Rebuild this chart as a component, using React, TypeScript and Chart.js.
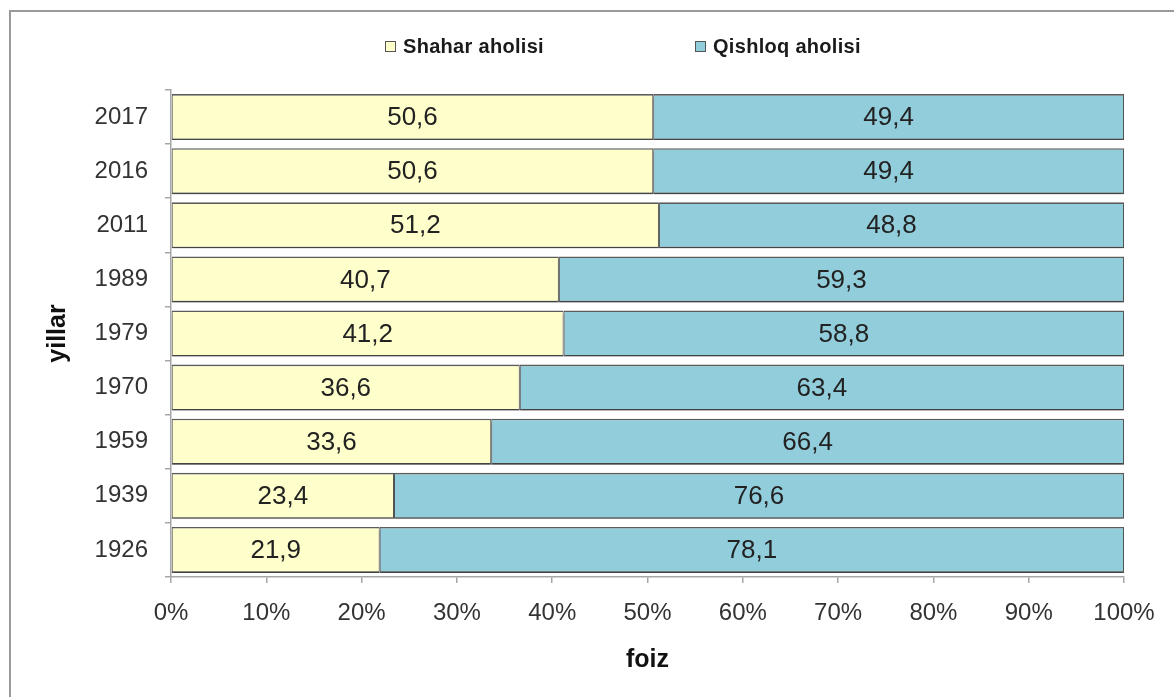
import React, { useEffect, useRef } from "react";
import { Chart, registerables } from "chart.js";

Chart.register(...registerables);

const years = ["2017", "2016", "2011", "1989", "1979", "1970", "1959", "1939", "1926"];
const urban = [50.6, 50.6, 51.2, 40.7, 41.2, 36.6, 33.6, 23.4, 21.9];
const rural = [49.4, 49.4, 48.8, 59.3, 58.8, 63.4, 66.4, 76.6, 78.1];
const seriesNames = ["Shahar aholisi", "Qishloq aholisi"];
const seriesColors = ["#FFFFCC", "#92CDDC"];
const xTickValues = [0, 10, 20, 30, 40, 50, 60, 70, 80, 90, 100];
const yTitle = "yillar";
const xTitle = "foiz";

const FONT = '"Liberation Sans", Arial, Helvetica, sans-serif';
const W = 1174;
const H = 697;
const legendLefts = [385, 695];

const barShadow = {
  id: "barShadow",
  beforeDatasetsDraw(chart: any) {
    const ctx = chart.ctx;
    ctx.save();
    ctx.shadowColor = "rgba(0,0,0,0.28)";
    ctx.shadowOffsetX = 0;
    ctx.shadowOffsetY = 2.5;
    ctx.shadowBlur = 2;
  },
  afterDatasetsDraw(chart: any) {
    chart.ctx.restore();
  },
};

const valueLabels = {
  id: "valueLabels",
  afterDatasetsDraw(chart: any) {
    const ctx = chart.ctx;
    ctx.save();
    ctx.shadowColor = "rgba(0,0,0,0)";
    ctx.font = `26px ${FONT}`;
    ctx.fillStyle = "#222222";
    ctx.textAlign = "center";
    ctx.textBaseline = "middle";
    chart.data.datasets.forEach((ds: any, i: number) => {
      const meta = chart.getDatasetMeta(i);
      meta.data.forEach((bar: any, j: number) => {
        const p = bar.getProps(["x", "y", "base"], true);
        const v = ds.data[j] as number;
        ctx.fillText(v.toFixed(1).replace(".", ","), (p.x + p.base) / 2, p.y + 1);
      });
    });
    ctx.restore();
  },
};

const barBorder = { top: 1.6, bottom: 1.6, left: 1, right: 1 };

export default function App() {
  const ref = useRef<HTMLCanvasElement | null>(null);

  useEffect(() => {
    if (!ref.current) return;
    const chart = new Chart(ref.current, {
      type: "bar",
      data: {
        labels: years,
        datasets: [
          {
            label: seriesNames[0],
            data: urban,
            backgroundColor: seriesColors[0],
            borderColor: "#5c5c5c",
            borderWidth: barBorder,
            borderSkipped: false,
          },
          {
            label: seriesNames[1],
            data: rural,
            backgroundColor: seriesColors[1],
            borderColor: "#5c5c5c",
            borderWidth: barBorder,
            borderSkipped: false,
          },
        ],
      },
      options: {
        indexAxis: "y",
        responsive: false,
        animation: false,
        devicePixelRatio: 1,
        layout: { padding: { left: 10, top: 90, right: 50, bottom: 0 } },
        datasets: {
          bar: { categoryPercentage: 1, barPercentage: 0.85 },
        },
        plugins: {
          legend: { display: false },
          tooltip: { enabled: false },
        },
        scales: {
          x: {
            stacked: true,
            min: 0,
            max: 100,
            afterBuildTicks: (s: any) => {
              s.ticks = xTickValues.map((v) => ({ value: v }));
            },
            afterFit: (s: any) => {
              s.height = 120;
            },
            ticks: {
              callback: (v: any) => `${v}%`,
              font: { family: FONT, size: 24 },
              color: "#333333",
              padding: 16,
              maxRotation: 0,
            },
            grid: {
              drawOnChartArea: false,
              drawTicks: true,
              tickLength: 6,
              color: "#a6a6a6",
              lineWidth: 1.5,
            },
            border: { color: "#a6a6a6", width: 1.5 },
            title: {
              display: true,
              text: xTitle,
              font: { family: FONT, size: 25, weight: "bold" },
              color: "#111111",
              padding: { top: 0, bottom: 22 },
            },
          },
          y: {
            stacked: true,
            afterFit: (s: any) => {
              s.width = 161;
            },
            ticks: {
              font: { family: FONT, size: 24 },
              color: "#333333",
              padding: 17,
            },
            grid: {
              drawOnChartArea: false,
              drawTicks: true,
              tickLength: 6,
              color: "#a6a6a6",
              lineWidth: 1.5,
            },
            border: { color: "#a6a6a6", width: 1.5 },
            title: {
              display: true,
              text: yTitle,
              font: { family: FONT, size: 25, weight: "bold" },
              color: "#111111",
              padding: { top: 33, bottom: 0 },
            },
          },
        },
      },
      plugins: [barShadow, valueLabels],
    });
    return () => chart.destroy();
  }, []);

  return (
    <div
      style={{
        position: "fixed",
        left: 0,
        top: 0,
        width: W,
        height: H,
        background: "#ffffff",
        overflow: "hidden",
      }}
    >
      <div
        style={{
          position: "absolute",
          left: 9,
          top: 10,
          width: 3000,
          height: 3000,
          borderLeft: "2px solid #9a9a9a",
          borderTop: "2px solid #9a9a9a",
        }}
      />
      <canvas
        ref={ref}
        width={W}
        height={H}
        style={{ position: "absolute", left: 0, top: 0, width: W, height: H }}
      />
      {seriesNames.map((name, i) => (
        <div
          key={name}
          style={{
            position: "absolute",
            left: legendLefts[i],
            top: 34,
            height: 24,
            display: "flex",
            alignItems: "center",
            fontFamily: FONT,
            fontSize: 20,
            fontWeight: "bold",
            letterSpacing: 0.3,
            color: "#1a1a1a",
            whiteSpace: "nowrap",
          }}
        >
          <span
            style={{
              display: "inline-block",
              width: 9,
              height: 9,
              background: seriesColors[i],
              border: "1px solid #555555",
              marginRight: 7,
            }}
          />
          <span>{name}</span>
        </div>
      ))}
    </div>
  );
}
